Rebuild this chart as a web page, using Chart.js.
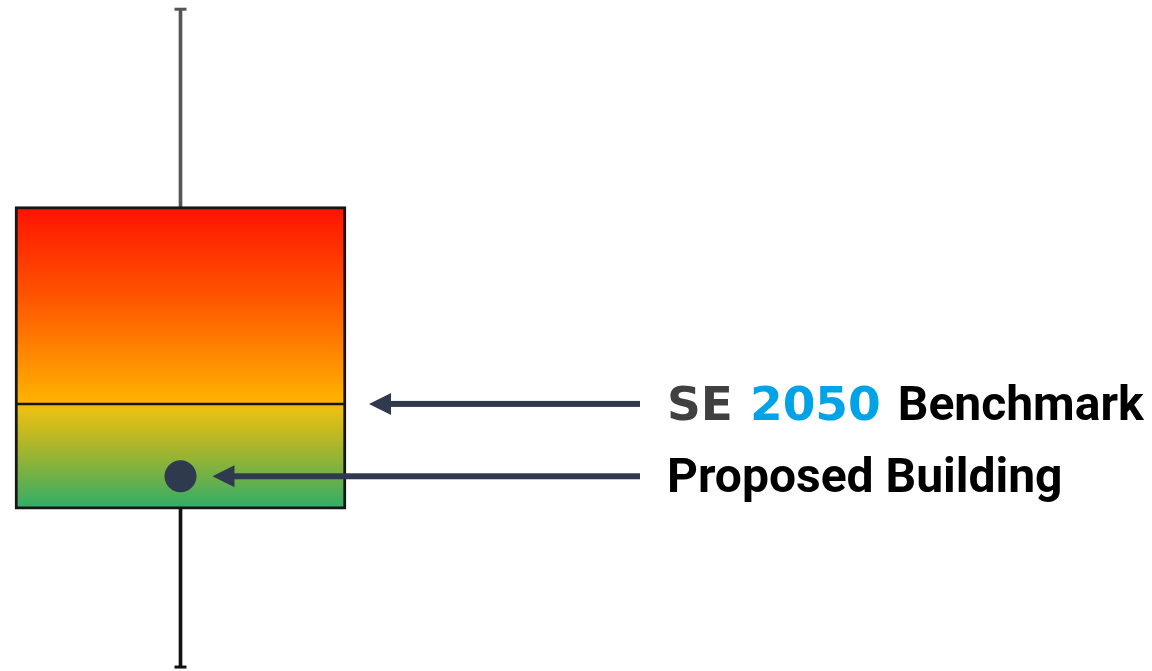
<!DOCTYPE html>
<html>
<head>
<meta charset="utf-8">
<script src="https://cdn.jsdelivr.net/npm/chart.js@4/dist/chart.umd.min.js"></script>
<style>
  html, body { margin: 0; padding: 0; background: #ffffff; }
  #wrap { width: 1152px; height: 671px; }
</style>
</head>
<body>
<div id="wrap"><canvas id="box" width="1152" height="671"></canvas></div>
<script>
// Benchmark distribution (energy use, arbitrary units)
const categories = ['Benchmark'];
const whiskerLow = [0];
const quartile1 = [24];
const median = [40];
const quartile3 = [70];
const whiskerHigh = [100];
const proposed = [29];
const labels = { benchmark: ['SE', '2050', 'Benchmark'], proposed: 'Proposed Building' };

const gradientStops = [
  [0.00, '#ff1200'], [0.30, '#ff5500'], [0.55, '#ff9800'], [0.645, '#ffb300'],
  [0.675, '#e9c014'], [0.80, '#a6b52c'], [0.90, '#6bb04a'], [1.00, '#2eae68']
];

function boxGradient(context) {
  const chart = context.chart;
  const { ctx, chartArea, scales } = chart;
  if (!chartArea) return '#ff8000';
  const yTop = scales.y.getPixelForValue(quartile3[0]);
  const yBot = scales.y.getPixelForValue(quartile1[0]);
  const g = ctx.createLinearGradient(0, yTop, 0, yBot);
  gradientStops.forEach(([o, c]) => g.addColorStop(o, c));
  return g;
}

const INK = '#303a4f';

// Median line, whisker caps, arrows and annotations
const annotate = {
  id: 'annotate',
  afterDatasetsDraw(chart) {
    const { ctx, scales } = chart;
    const y = scales.y;
    const box = chart.getDatasetMeta(2).data[0];
    const dot = chart.getDatasetMeta(3).data[0];
    const left = box.x - box.width / 2, right = box.x + box.width / 2;

    ctx.save();
    // whisker caps
    ctx.lineWidth = 3;
    ctx.strokeStyle = '#555555';
    let yc = y.getPixelForValue(whiskerHigh[0]);
    ctx.beginPath(); ctx.moveTo(box.x - 6, yc); ctx.lineTo(box.x + 6, yc); ctx.stroke();
    ctx.strokeStyle = '#111111';
    yc = y.getPixelForValue(whiskerLow[0]);
    ctx.beginPath(); ctx.moveTo(box.x - 6, yc); ctx.lineTo(box.x + 6, yc); ctx.stroke();

    // median line
    const ym = y.getPixelForValue(median[0]);
    ctx.lineWidth = 2.5;
    ctx.strokeStyle = '#161616';
    ctx.beginPath(); ctx.moveTo(left, ym); ctx.lineTo(right, ym); ctx.stroke();

    // arrows
    const tail = 640;
    function arrow(tipX, ay) {
      ctx.fillStyle = INK;
      ctx.fillRect(tipX + 18, ay - 3, tail - tipX - 18, 6);
      ctx.beginPath();
      ctx.moveTo(tipX, ay);
      ctx.lineTo(tipX + 22, ay - 11);
      ctx.lineTo(tipX + 22, ay + 11);
      ctx.closePath();
      ctx.fill();
    }
    arrow(right + 23, ym);
    arrow(dot.x + 32, dot.y);

    // labels
    const tx = 667;
    ctx.textBaseline = 'alphabetic';
    ctx.textAlign = 'left';
    let x = tx;
    ctx.font = 'bold 47px "DejaVu Sans"';
    ctx.fillStyle = '#404040';
    ctx.fillText(labels.benchmark[0], x, ym + 16);
    x += ctx.measureText(labels.benchmark[0]).width + 17;
    ctx.fillStyle = '#00a3e8';
    ctx.fillText(labels.benchmark[1], x, ym + 16);
    x += ctx.measureText(labels.benchmark[1]).width + 17;
    ctx.font = 'bold 48px Roboto';
    ctx.fillStyle = '#000000';
    ctx.fillText(labels.benchmark[2], x, ym + 16);
    ctx.fillText(labels.proposed, tx, dot.y + 16);
    ctx.restore();
  }
};

new Chart(document.getElementById('box'), {
  type: 'bar',
  data: {
    labels: categories,
    datasets: [
      { label: 'upper whisker', data: categories.map((c, i) => [quartile3[i], whiskerHigh[i]]),
        backgroundColor: '#555555', barThickness: 3, grouped: false, borderWidth: 0, order: 3 },
      { label: 'lower whisker', data: categories.map((c, i) => [whiskerLow[i], quartile1[i]]),
        backgroundColor: '#111111', barThickness: 3, grouped: false, borderWidth: 0, order: 3 },
      { label: 'interquartile range', data: categories.map((c, i) => [quartile1[i], quartile3[i]]),
        backgroundColor: boxGradient, borderColor: '#161616', borderWidth: 3,
        borderSkipped: false, barThickness: 331, grouped: false, order: 2 },
      { type: 'line', label: 'proposed', data: proposed, showLine: false, order: 0,
        pointRadius: 16, pointBackgroundColor: INK, pointBorderWidth: 0 }
    ]
  },
  options: {
    responsive: false,
    animation: false,
    devicePixelRatio: 1,
    layout: { autoPadding: false, padding: { left: 0, right: 791, top: 0, bottom: 0 } },
    plugins: { legend: { display: false }, tooltip: { enabled: false } },
    scales: {
      x: { display: false },
      y: { display: false, min: -0.6, max: 101.4 }
    }
  },
  plugins: [annotate]
});
</script>
</body>
</html>
